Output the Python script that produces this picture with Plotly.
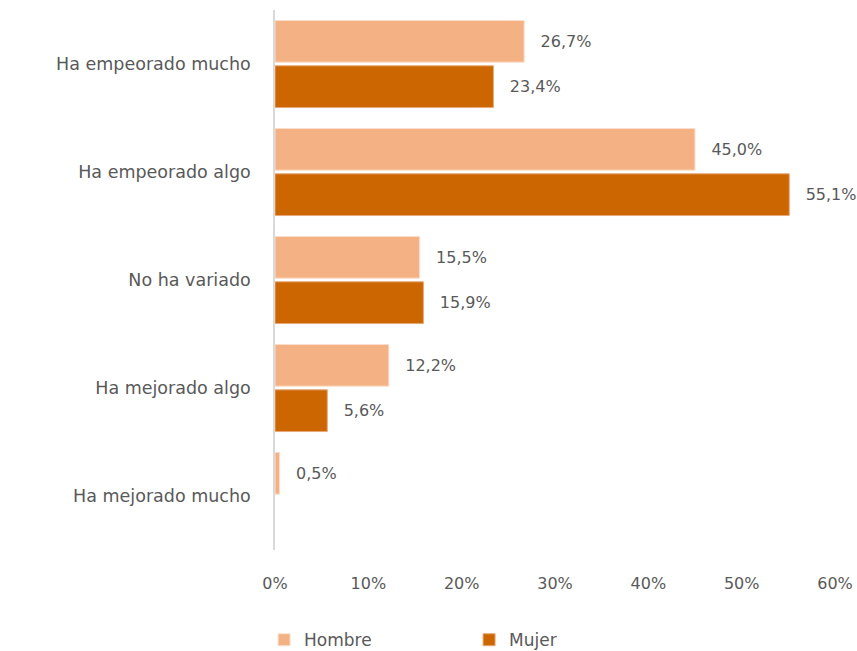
import plotly.graph_objects as go

categorias = ["Ha empeorado mucho", "Ha empeorado algo", "No ha variado",
              "Ha mejorado algo", "Ha mejorado mucho"]
hombre = [26.7, 45.0, 15.5, 12.2, 0.5]
mujer = [23.4, 55.1, 15.9, 5.6, None]
ticks = [0, 10, 20, 30, 40, 50, 60]
tick_labels = ["0%", "10%", "20%", "30%", "40%", "50%", "60%"]

gris = "#595959"
fuente = "DejaVu Sans"
pad = "\u00a0\u00a0\u2009"

fig = go.Figure()

fig.add_trace(go.Bar(
    y=categorias, x=hombre, orientation="h", name="Hombre",
    marker=dict(color="#F4B183", line=dict(color="#FBE0CC", width=1)),
    texttemplate=pad + "%{x:.1f}%", textposition="outside",
    textfont=dict(color=gris, size=16), cliponaxis=False
))

fig.add_trace(go.Bar(
    y=categorias, x=mujer, orientation="h", name="Mujer",
    marker=dict(color="#CC6600", line=dict(color="#E8A877", width=1)),
    texttemplate=pad + "%{x:.1f}%", textposition="outside",
    textfont=dict(color=gris, size=16), cliponaxis=False
))

fig.update_layout(
    width=857, height=651,
    margin=dict(l=275, r=22, t=10, b=101, autoexpand=False),
    plot_bgcolor="white", paper_bgcolor="white",
    font=dict(family=fuente, color=gris, size=16),
    separators=",.",
    barmode="group", bargap=0.16, bargroupgap=0.08,
    showlegend=True,
    legend=dict(orientation="h", x=-0.0195, xanchor="left", y=-0.167, yanchor="middle",
                font=dict(size=17, color=gris), entrywidth=160, entrywidthmode="pixels",
                traceorder="normal"),
    xaxis=dict(range=[0, 60], tickvals=ticks, ticktext=tick_labels, showgrid=False,
               zeroline=False, showline=False, ticks="", ticklabelstandoff=22,
               automargin=False, tickfont=dict(size=16, color=gris)),
    yaxis=dict(autorange="reversed", showline=True, linecolor="#D9D9D9", linewidth=1.5,
               ticks="", ticklabelstandoff=19, automargin=False,
               tickfont=dict(size=17.5, color=gris)),
)

# drop the default 8px body margin of the page so the figure fills the window
fig.write_html("out.html", config={"displayModeBar": False},
               post_script="document.body.style.margin='0';")
